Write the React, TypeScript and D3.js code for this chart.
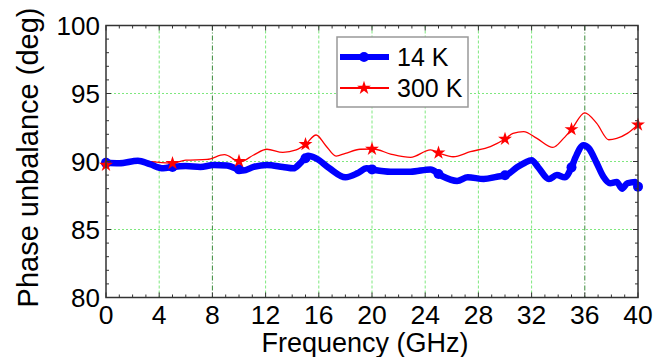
import React from "react";
import * as d3 from "d3";

const xTicks = [0, 4, 8, 12, 16, 20, 24, 28, 32, 36, 40];
const yTicks = [80, 85, 90, 95, 100];
const markerFreqs = [0, 5, 10, 15, 20, 25, 30, 35, 40];

const freq14K = [0, 1.0, 2.4, 3.3, 4.3, 5.0, 6.0, 7.1, 8.1, 9.1, 10.3, 11.1, 12.1, 13.3, 14.1, 14.6, 15.2, 15.8, 16.8, 18.0, 18.9, 19.6, 20.2, 21.4, 22.9, 24.4, 25.2, 26.4, 27.2, 28.4, 29.4, 30.1, 30.9, 31.5, 32.0, 32.5, 33.3, 33.9, 34.5, 35.0, 35.3, 35.9, 36.3, 36.9, 37.4, 37.9, 38.4, 38.8, 39.2, 39.8, 40];
const phase14K = [89.9, 89.87, 90.06, 89.8, 89.5, 89.6, 89.67, 89.6, 89.74, 89.7, 89.33, 89.6, 89.74, 89.6, 89.5, 89.87, 90.43, 90.23, 89.5, 88.84, 89.13, 89.5, 89.38, 89.25, 89.25, 89.42, 88.96, 88.57, 88.84, 88.71, 88.88, 89.0, 89.57, 89.91, 90.1, 89.57, 88.71, 89.0, 88.84, 89.57, 90.3, 91.2, 90.97, 89.87, 88.88, 88.4, 88.5, 88.0, 88.4, 88.5, 88.15];

const freq300K = [0, 1.0, 2.4, 3.5, 5.0, 6.0, 7.6, 8.9, 10.1, 11.1, 12.1, 13.3, 14.3, 15.0, 15.8, 16.5, 17.3, 18.0, 19.1, 20.1, 21.4, 22.9, 24.4, 25.1, 26.1, 27.4, 28.9, 30.0, 30.6, 31.4, 32.4, 33.6, 34.4, 35.0, 36.0, 36.9, 37.8, 38.4, 39.2, 40];
const phase300K = [89.74, 89.9, 90.1, 89.98, 89.87, 90.1, 90.15, 90.5, 89.98, 90.48, 90.9, 90.67, 90.85, 91.26, 91.95, 91.2, 90.4, 90.6, 90.9, 90.92, 90.55, 90.3, 90.85, 90.6, 90.35, 90.72, 91.1, 91.65, 92.07, 92.2, 91.7, 91.04, 91.7, 92.36, 93.58, 92.8, 91.6, 91.7, 92.07, 92.7];

const W = 666, H = 357;
const left = 106, right = 638, top = 25.5, bottom = 297.5;
const FONT = "'Liberation Sans', Arial, sans-serif";

export default function App() {
  const x = d3.scaleLinear().domain([0, 40]).range([left, right]);
  const y = d3.scaleLinear().domain([80, 100]).range([bottom, top]);
  const line = d3.line<[number, number]>().x(d => x(d[0])).y(d => y(d[1])).curve(d3.curveMonotoneX);
  const d14 = freq14K.map((f, i) => [f, phase14K[i]] as [number, number]);
  const d300 = freq300K.map((f, i) => [f, phase300K[i]] as [number, number]);
  const interp = (fs: number[], vs: number[], f: number) => {
    const i = Math.max(1, d3.bisectLeft(fs, f));
    if (i >= fs.length) return vs[vs.length - 1];
    const t = (f - fs[i - 1]) / (fs[i] - fs[i - 1]);
    return vs[i - 1] + t * (vs[i] - vs[i - 1]);
  };
  const star = d3.symbol().type(d3.symbolStar).size(60)()!;
  const xMinor = d3.range(0, 41, 1);
  const yMinor = d3.range(80, 101, 1);
  const darkGrid = new Set([8, 36]);

  return (
    <svg width={W} height={H} style={{ position: "absolute", left: 0, top: 0, background: "#fff" }}>
      <rect width={W} height={H} fill="#fff" />
      {xTicks.filter(t => t > 0 && t < 40).map(t => (
        <line key={"gx" + t} x1={x(t)} x2={x(t)} y1={top} y2={bottom}
          stroke={darkGrid.has(t) ? "#3a8a3a" : "#7ee87e"} strokeWidth={1}
          strokeDasharray={darkGrid.has(t) ? "5,2,1,2" : "3,2"} />
      ))}
      {yTicks.filter(t => t > 80 && t < 100).map(t => (
        <line key={"gy" + t} x1={left} x2={right} y1={y(t)} y2={y(t)}
          stroke="#7ee87e" strokeWidth={1} strokeDasharray="2,2" />
      ))}
      <path d={line(d300)!} fill="none" stroke="#ff0000" strokeWidth={1.3} />
      <path d={line(d14)!} fill="none" stroke="#0000ff" strokeWidth={6.5} strokeLinejoin="round" strokeLinecap="round" />
      {markerFreqs.map(f => (
        <circle key={"c" + f} cx={x(f)} cy={y(interp(freq14K, phase14K, f))} r={5} fill="#0000ff" />
      ))}
      {markerFreqs.map(f => (
        <path key={"s" + f} d={star} transform={`translate(${x(f)},${y(interp(freq300K, phase300K, f))})`} fill="#ff0000" />
      ))}
      <rect x={left} y={top} width={right - left} height={bottom - top} fill="none" stroke="#333" strokeWidth={1.5} />
      {xMinor.map(t => {
        const len = t % 4 === 0 ? 5 : 3;
        return (
          <g key={"xt" + t}>
            <line x1={x(t)} x2={x(t)} y1={bottom} y2={bottom - len} stroke="#333" strokeWidth={1} />
            <line x1={x(t)} x2={x(t)} y1={top} y2={top + len} stroke="#333" strokeWidth={1} />
          </g>
        );
      })}
      {yMinor.map(t => {
        const len = t % 5 === 0 ? 5 : 3;
        return (
          <g key={"yt" + t}>
            <line x1={left} x2={left + len} y1={y(t)} y2={y(t)} stroke="#333" strokeWidth={1} />
            <line x1={right} x2={right - len} y1={y(t)} y2={y(t)} stroke="#333" strokeWidth={1} />
          </g>
        );
      })}
      {xTicks.map(t => (
        <text key={"xl" + t} x={x(t)} y={324} textAnchor="middle" fontFamily={FONT} fontSize={26.5} fill="#000">{t}</text>
      ))}
      {yTicks.map(t => (
        <text key={"yl" + t} x={100} y={y(t) + 9.5} textAnchor="end" fontFamily={FONT} fontSize={26} fill="#000">{t}</text>
      ))}
      <text x={(left + right) / 2 - 7} y={352} textAnchor="middle" fontFamily={FONT} fontSize={27} fill="#000">Frequency (GHz)</text>
      <text transform={`translate(38,${157.5}) rotate(-90)`} textAnchor="middle" fontFamily={FONT} fontSize={29} fill="#000">Phase unbalance (deg)</text>
      <rect x={337} y={37} width={131} height={70} fill="#fff" stroke="#999" strokeWidth={1.5} />
      <line x1={340} x2={389} y1={57} y2={57} stroke="#0000ff" strokeWidth={6} />
      <circle cx={364} cy={57} r={5} fill="#0000ff" />
      <text x={397} y={66} fontFamily={FONT} fontSize={25} fill="#000">14 K</text>
      <line x1={340} x2={389} y1={88} y2={88} stroke="#ff0000" strokeWidth={2} />
      <path d={star} transform="translate(364,88)" fill="#ff0000" />
      <text x={397} y={97} fontFamily={FONT} fontSize={25} fill="#000">300 K</text>
    </svg>
  );
}
